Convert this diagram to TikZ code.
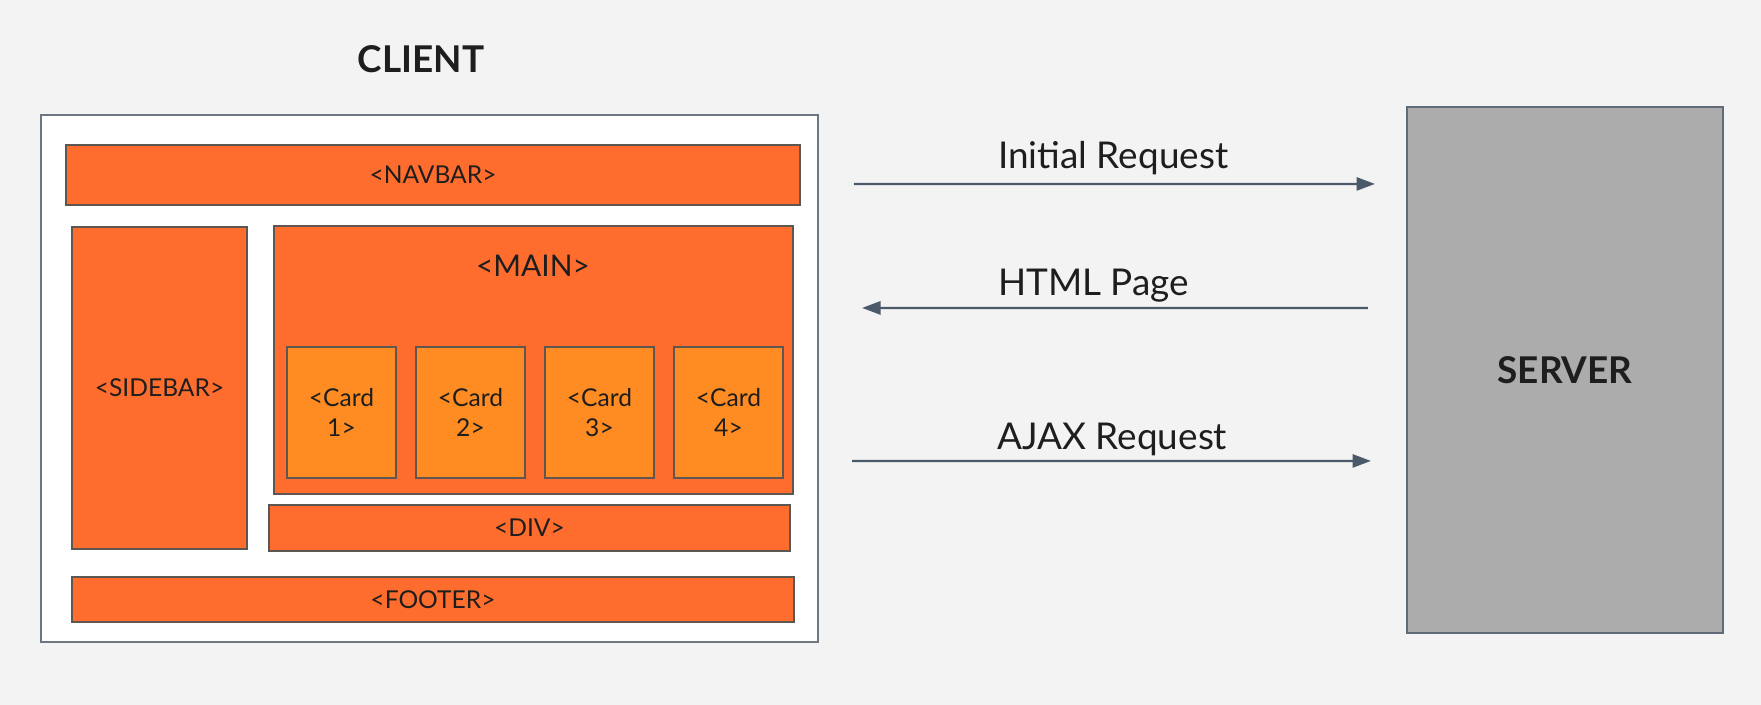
\documentclass[tikz,border=0pt]{standalone}
\usepackage{fontspec}
\setmainfont{Lato}
\usetikzlibrary{fit,arrows.meta}

\definecolor{pagebg}{HTML}{F3F3F3}
\definecolor{partfill}{HTML}{FF6D2E}
\definecolor{cardfill}{HTML}{FF8C22}
\definecolor{partline}{HTML}{5E5650}
\definecolor{clientline}{HTML}{6E7781}
\definecolor{serverfill}{HTML}{ACACAC}
\definecolor{serverline}{HTML}{5F6B77}
\definecolor{flowline}{HTML}{4B5A6B}
\definecolor{inktext}{HTML}{1E1E1E}

\begin{document}
\begin{tikzpicture}[x=0.02cm,y=-0.02cm,text=inktext,
  part/.style={draw=partline, fill=partfill, line width=1.1pt, inner sep=0pt},
  card/.style={part, fill=cardfill},
  tag/.style={label={[text=inktext, align=center, font=\fontsize{14}{17}\selectfont]center:#1}},
  tier/.style={line width=1.2pt, inner sep=0pt},
  tiertext/.style={text=inktext, font=\bfseries\fontsize{21}{25}\selectfont},
  flow/.style={draw=flowline, line width=1.3pt, -{Triangle[length=10.5pt,width=7.5pt]}},
  flowlabel/.style={anchor=base west, font=\fontsize{21}{25}\selectfont}]

  \fill[pagebg] (0,0) rectangle (1761,705);
  \useasboundingbox (0,0) rectangle (1761,705);

  % client side
  \node[tiertext] (clientlbl) at (421,59) {CLIENT};
  \node[tier, fit={(41,115)(818,642)}, draw=clientline, fill=white] (client) {};
  \node[part, tag={<NAVBAR>}, fit={(66,145)(800,205)}] (navbar) {};
  \node[part, tag={<SIDEBAR>}, fit={(72,227)(247,549)}] (sidebar) {};
  \node[part, fit={(274,226)(793,494)}] (main) {};
  \node[font=\fontsize{17}{20}\selectfont] (mainlbl) at (533,266) {<MAIN>};
  \foreach \i/\x in {1/287,2/416,3/545,4/674}
    \node[card, tag={<Card\\\i>}, fit={(\x,347)(\x+109,478)}] (card\i) {};
  \node[part, tag={<DIV>}, fit={(269,505)(790,551)}] (div) {};
  \node[part, tag={<FOOTER>}, fit={(72,577)(794,622)}] (footer) {};

  % server side
  \node[tier, fit={(1407,107)(1723,633)}, draw=serverline, fill=serverfill,
    label={[tiertext]center:SERVER}] (server) {};

  % requests
  \draw[flow] ([shift={(35,70)}]client.north east) -- ([shift={(-31,78)}]server.north west);
  \draw[flow] ([shift={(-38,202)}]server.north west) -- ([shift={(43,194)}]client.north east);
  \draw[flow] ([shift={(33,347)}]client.north east) -- ([shift={(-35,355)}]server.north west);

  \node[flowlabel] (initlbl) at (992,169) {Initial Request};
  \node[flowlabel] (htmllbl) at (992,296) {HTML Page};
  \node[flowlabel] (ajaxlbl) at (991,450) {AJAX Request};
\end{tikzpicture}
\end{document}
